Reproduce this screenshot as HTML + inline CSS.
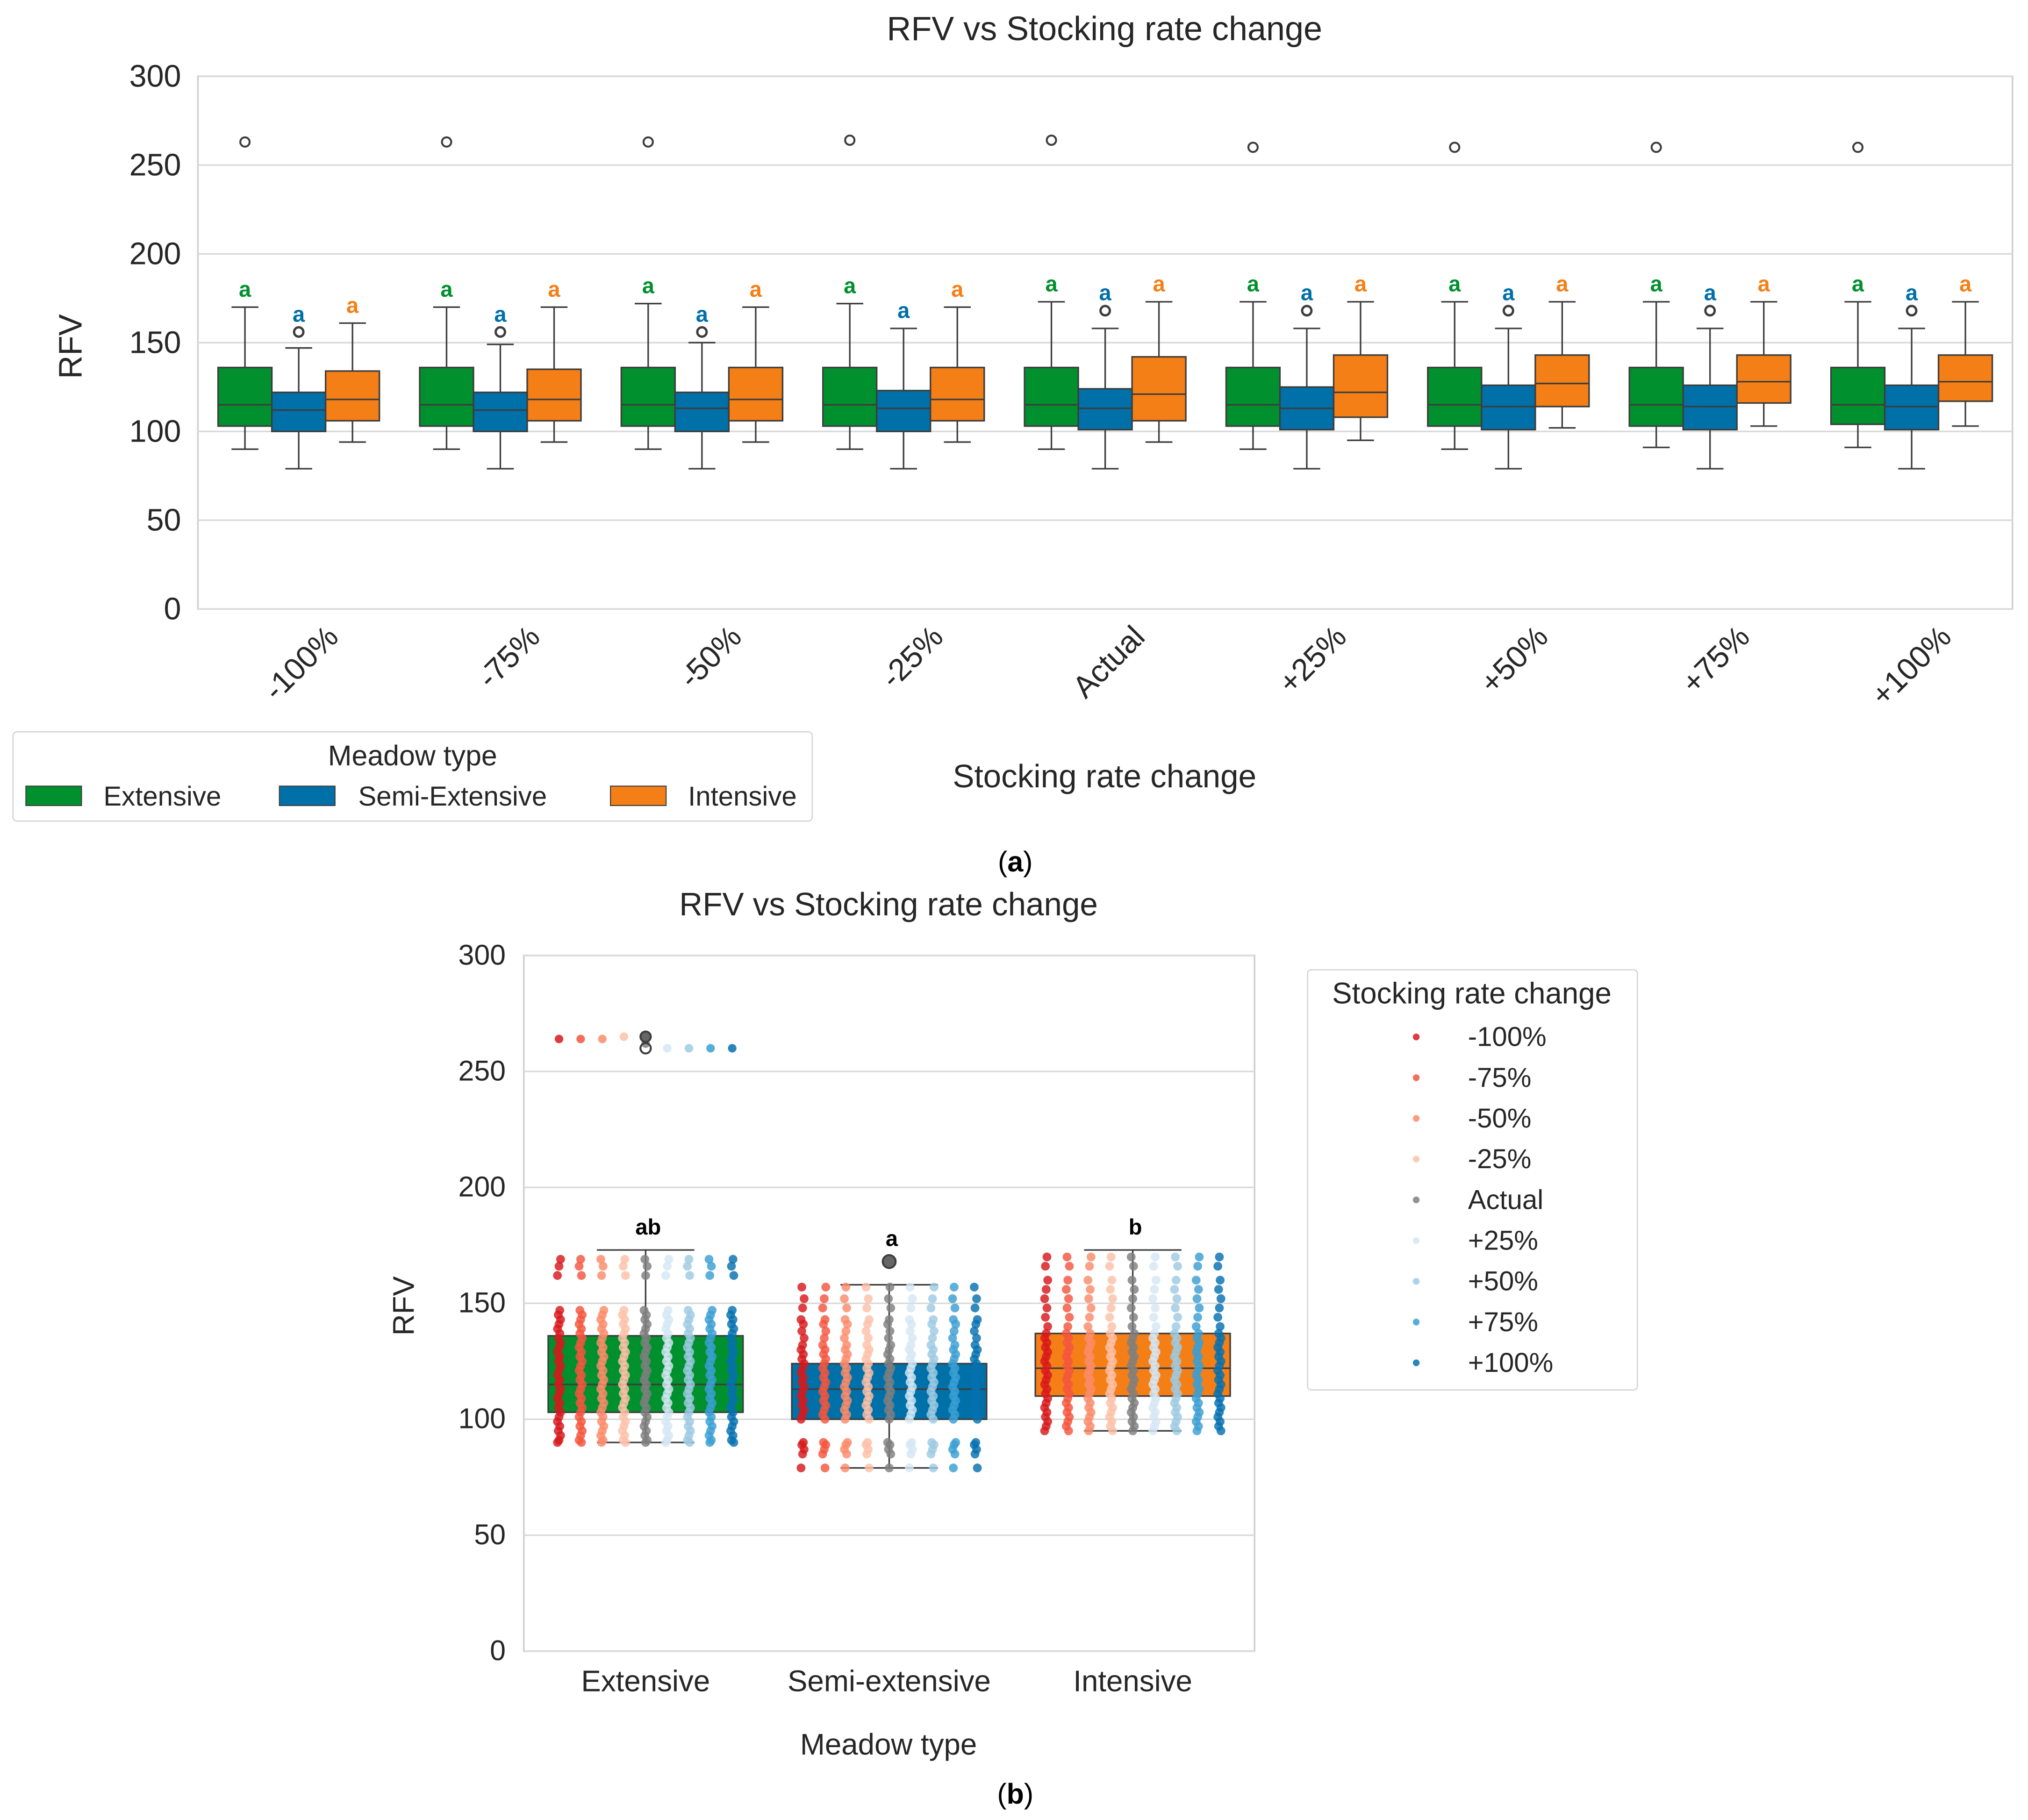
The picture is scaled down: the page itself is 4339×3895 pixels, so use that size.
<!DOCTYPE html>
<html><head><meta charset="utf-8">
<style>html,body{margin:0;padding:0;background:#fff}svg{display:block}text{font-family:"Liberation Sans",sans-serif}</style>
</head><body>
<svg id="fig" xmlns="http://www.w3.org/2000/svg" width="4339" height="3895" viewBox="0 0 1568 1407.6">
<rect x="0" y="0" width="1568" height="1408" fill="#fff"/>
<g id="top"></g>
<g id="bot"></g>
</svg>
<script>
const NS="http://www.w3.org/2000/svg";
function mk(p,t,a,txt){const e=document.createElementNS(NS,t);for(const k in a)e.setAttribute(k,a[k]);if(txt!==undefined)e.textContent=txt;p.appendChild(e);return e;}

// ---------- Chart A data ----------
const catsA=["-100%","-75%","-50%","-25%","Actual","+25%","+50%","+75%","+100%"];
const meadowsA=["Extensive","Semi-Extensive","Intensive"];
const colorsA=["#00902e","#0070a8","#f57f17"];
// [lo,q1,med,q3,hi] per category
const extStats=[[90,103,115,136,170],[90,103,115,136,170],[90,103,115,136,172],[90,103,115,136,172],[90,103,115,136,173],[90,103,115,136,173],[90,103,115,136,173],[91,103,115,136,173],[91,104,115,136,173]];
const semiStats=[[79,100,112,122,147],[79,100,112,122,149],[79,100,113,122,150],[79,100,113,123,158],[79,101,113,124,158],[79,101,113,125,158],[79,101,114,126,158],[79,101,114,126,158],[79,101,114,126,158]];
const intStats=[[94,106,118,134,161],[94,106,118,135,170],[94,106,118,136,170],[94,106,118,136,170],[94,106,121,142,173],[95,108,122,143,173],[102,114,127,143,173],[103,116,128,143,173],[103,117,128,143,173]];
const extOut=[263,263,263,264,264,260,260,260,260];
const semiOut=[156,156,156,null,168,168,168,168,168];

const A={x0:153,x1:1556,y0:471,y1:59,max:300};
const yA=v=>A.y0-(v/A.max)*(A.y0-A.y1);
const bwA=(A.x1-A.x0)/catsA.length;
const xA=i=>A.x0+bwA*(i+0.5);

(function(){
const g=document.getElementById('top');
mk(g,'rect',{x:A.x0,y:A.y1,width:A.x1-A.x0,height:A.y0-A.y1,fill:'#fff',stroke:'#d0d0d0','stroke-width':1.3});
[0,50,100,150,200,250,300].forEach(t=>{
 const l=mk(g,'line',{x1:A.x0,x2:A.x1,y1:yA(t),y2:yA(t),stroke:'#d9d9d9','stroke-width':1.2});
 
 const tx=mk(g,'text',{x:140,y:yA(t)+8,'text-anchor':'end','font-size':24,fill:'#262626'},String(t));
 
});
const tt=mk(g,'text',{x:854,y:31,'text-anchor':'middle','font-size':26,fill:'#262626'},'RFV vs Stocking rate change');

const yl=mk(g,'text',{x:0,y:0,'text-anchor':'middle','font-size':25,fill:'#262626',transform:'translate(63,268) rotate(-90)'},'RFV');

const xl=mk(g,'text',{x:854,y:609,'text-anchor':'middle','font-size':25,fill:'#262626'},'Stocking rate change');

const all=[extStats,semiStats,intStats];
const w=bwA*0.8/3;
catsA.forEach((c,i)=>{
 const lab=mk(g,'text',{x:0,y:0,'text-anchor':'end','font-size':24,fill:'#262626',transform:`translate(${xA(i)+32},${494}) rotate(-45)`},c);
 
 for(let m=0;m<3;m++){
  const s=all[m][i];const cx=xA(i)+(m-1)*w;const bx=cx-w/2;
  const bg=mk(g,'g',{});
  
  mk(bg,'line',{x1:cx,x2:cx,y1:yA(s[0]),y2:yA(s[1]),stroke:'#3d3d3d','stroke-width':1.2});
  mk(bg,'line',{x1:cx,x2:cx,y1:yA(s[3]),y2:yA(s[4]),stroke:'#3d3d3d','stroke-width':1.2});
  mk(bg,'line',{x1:cx-w/4,x2:cx+w/4,y1:yA(s[0]),y2:yA(s[0]),stroke:'#3d3d3d','stroke-width':1.2});
  mk(bg,'line',{x1:cx-w/4,x2:cx+w/4,y1:yA(s[4]),y2:yA(s[4]),stroke:'#3d3d3d','stroke-width':1.2});
  mk(bg,'rect',{x:bx,y:yA(s[3]),width:w,height:yA(s[1])-yA(s[3]),fill:colorsA[m],stroke:'#3d3d3d','stroke-width':1.2});
  mk(bg,'line',{x1:bx,x2:bx+w,y1:yA(s[2]),y2:yA(s[2]),stroke:'#3d3d3d','stroke-width':1.2});
  let top=s[4];
  if(m===1&&semiOut[i]!=null){mk(bg,'circle',{cx:cx,cy:yA(semiOut[i]),r:3.6,fill:'none',stroke:'#3d3d3d','stroke-width':1.8});top=semiOut[i];}
  const lt=mk(g,'text',{x:cx,y:yA(top)-8,'text-anchor':'middle','font-size':17,'font-weight':'bold',fill:colorsA[m]},'a');
  
 }
 const o=mk(g,'circle',{cx:xA(i)-w,cy:yA(extOut[i]),r:3.6,fill:'none',stroke:'#3d3d3d','stroke-width':1.5});
 
});
// legend
const lg=mk(g,'g',{});
mk(lg,'rect',{x:10,y:566,width:618,height:69,rx:3,fill:'#fff',stroke:'#d6d6d6','stroke-width':1});
mk(lg,'text',{x:319,y:592,'text-anchor':'middle','font-size':22,fill:'#262626'},'Meadow type');
[[20,80],[216,277],[472,532]].forEach((p,m)=>{
 const e=mk(lg,'g',{});
 mk(e,'rect',{x:p[0],y:608,width:43,height:15,fill:colorsA[m],stroke:'#3d3d3d','stroke-width':0.8});
 mk(e,'text',{x:p[1],y:623,'font-size':21,fill:'#262626'},meadowsA[m]);
});
const la=mk(g,'text',{x:785,y:674,'text-anchor':'middle','font-size':22,fill:'#000','font-family':'Liberation Serif'},'');

la.innerHTML='(<tspan font-weight="bold">a</tspan>)';
})();

// ---------- Chart B data ----------
const catsB=["Extensive","Semi-extensive","Intensive"];
const boxColorsB=["#00902e","#0070a8","#f57f17"];
// [lo,q1,med,q3,hi]
const statsB=[[90,103,115,136,173],[79,100,113,124,158],[95,110,122,137,173]];
const lettersB=["ab","a","b"];
const hues=["-100%","-75%","-50%","-25%","Actual","+25%","+50%","+75%","+100%"];
const hueColors=["#d7191c","#f4553e","#fb8b6a","#fcc1a8","#7f7f7f","#d4e6f4","#9ecbe3","#3a9fd3","#0570b0"];
const extVals=[90,91,93,95,97,99,101,103,105,107,109,111,113,115,117,119,121,123,125,127,129,131,133,135,137,139,141,143,145,147,162,166,169];
const semiVals=[79,85,87,89,90,100,102,104,106,108,110,112,114,116,118,120,122,124,126,128,130,132,135,138,141,143,148,152,157];
const intVals=[95,97,99,101,103,105,107,109,111,113,115,117,119,121,123,125,127,129,131,133,135,137,140,144,148,152,156,160,166,170];
const extHigh=[264,264,264,265,262,260,260,260,260];

const B={x0:405,x1:970,y0:1277,y1:739,max:300};
const yB=v=>B.y0-(v/B.max)*(B.y0-B.y1);
const bwB=(B.x1-B.x0)/catsB.length;
const xB=i=>B.x0+bwB*(i+0.5);

(function(){
const g=document.getElementById('bot');
mk(g,'rect',{x:B.x0,y:B.y1,width:B.x1-B.x0,height:B.y0-B.y1,fill:'#fff',stroke:'#d0d0d0','stroke-width':1.3});
[0,50,100,150,200,250,300].forEach(t=>{
 const l=mk(g,'line',{x1:B.x0,x2:B.x1,y1:yB(t),y2:yB(t),stroke:'#d9d9d9','stroke-width':1.2});
 
 const tx=mk(g,'text',{x:391,y:yB(t)+7,'text-anchor':'end','font-size':22,fill:'#262626'},String(t));
 
});
const tt=mk(g,'text',{x:687,y:708,'text-anchor':'middle','font-size':25,fill:'#262626'},'RFV vs Stocking rate change');

const yl=mk(g,'text',{x:0,y:0,'text-anchor':'middle','font-size':23,fill:'#262626',transform:'translate(320,1010) rotate(-90)'},'RFV');

const xl=mk(g,'text',{x:687,y:1357,'text-anchor':'middle','font-size':23,fill:'#262626'},'Meadow type');

const w=bwB*0.8;const step=w/9;
const valsB=[extVals,semiVals,intVals];
catsB.forEach((c,i)=>{
 const lab=mk(g,'text',{x:xB(i),y:1308,'text-anchor':'middle','font-size':23,fill:'#262626'},c);
 
 const s=statsB[i];const cx=xB(i);const bx=cx-w/2;
 const bg=mk(g,'g',{});
 mk(bg,'rect',{x:bx,y:yB(s[3]),width:w,height:yB(s[1])-yB(s[3]),fill:boxColorsB[i],stroke:'#3d3d3d','stroke-width':1.2});
 mk(bg,'line',{x1:bx,x2:bx+w,y1:yB(s[2]),y2:yB(s[2]),stroke:'#3d3d3d','stroke-width':1.2});
 mk(bg,'line',{x1:cx,x2:cx,y1:yB(s[0]),y2:yB(s[1]),stroke:'#3d3d3d','stroke-width':1.2});
 mk(bg,'line',{x1:cx,x2:cx,y1:yB(s[3]),y2:yB(s[4]),stroke:'#3d3d3d','stroke-width':1.2});
 mk(bg,'line',{x1:cx-w/4,x2:cx+w/4,y1:yB(s[0]),y2:yB(s[0]),stroke:'#3d3d3d','stroke-width':1.2});
 mk(bg,'line',{x1:cx-w/4,x2:cx+w/4,y1:yB(s[4]),y2:yB(s[4]),stroke:'#3d3d3d','stroke-width':1.2});
 const pg=mk(g,'g',{});
 hues.forEach((h,k)=>{
  const px=cx+(k-4)*step;
  valsB[i].forEach((v,n)=>{
   const jit=((n*37+k*13)%5-2)*0.6;
   mk(pg,'circle',{cx:px+jit,cy:yB(v),r:3.4,fill:hueColors[k],'fill-opacity':0.82});
  });
  if(i===0)mk(pg,'circle',{cx:px,cy:yB(extHigh[k]),r:3.3,fill:hueColors[k],'fill-opacity':0.85});
 });
 const topV=i===1?168:s[4];
 const lt=mk(g,'text',{x:cx+2,y:yB(topV)-12,'text-anchor':'middle','font-size':17,'font-weight':'bold',fill:'#000'},lettersB[i]);
 
});
mk(g,'circle',{cx:xB(1),cy:yB(168),r:5,fill:'#666',stroke:'#3d3d3d','stroke-width':1.5});
mk(g,'circle',{cx:xB(0),cy:yB(265),r:4,fill:'#666',stroke:'#3d3d3d','stroke-width':1.5});
mk(g,'circle',{cx:xB(0),cy:yB(260),r:4,fill:'none',stroke:'#3d3d3d','stroke-width':1.5});
// legend
const lg=mk(g,'g',{});
mk(lg,'rect',{x:1011,y:750,width:255,height:325,rx:3,fill:'#fff',stroke:'#d6d6d6','stroke-width':1});
mk(lg,'text',{x:1138,y:776,'text-anchor':'middle','font-size':23,fill:'#262626'},'Stocking rate change');
hues.forEach((h,k)=>{
 const e=mk(lg,'g',{});
 mk(e,'circle',{cx:1095,cy:802+k*31.5,r:2.6,fill:hueColors[k],'fill-opacity':0.85});
 mk(e,'text',{x:1135,y:809+k*31.5,'font-size':21,fill:'#262626'},h);
});
const lb=mk(g,'text',{x:785,y:1395,'text-anchor':'middle','font-size':22,fill:'#000','font-family':'Liberation Serif'},'');

lb.innerHTML='(<tspan font-weight="bold">b</tspan>)';
})();
</script>
</body></html>
